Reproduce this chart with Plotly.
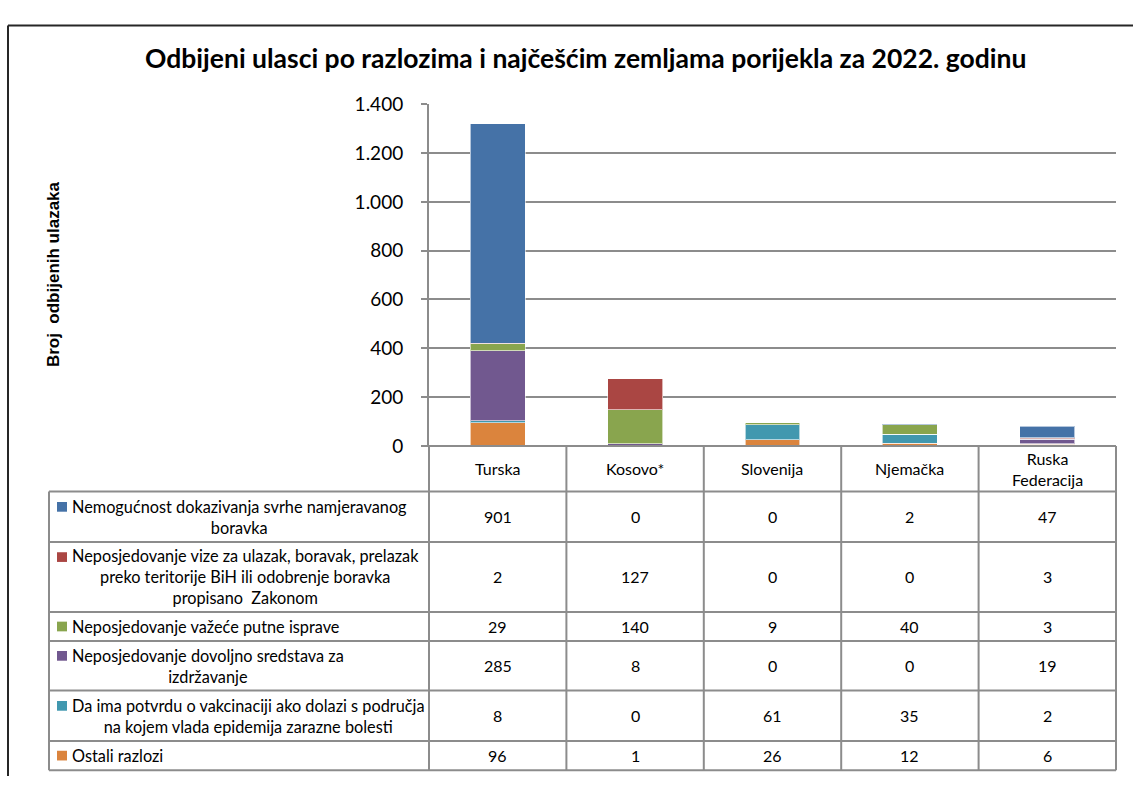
import plotly.graph_objects as go

# ---------------- data ----------------
countries = ["Turska", "Kosovo*", "Slovenija", "Njemačka", "Ruska Federacija"]
country_labels = ["Turska", "Kosovo*", "Slovenija", "Njemačka", "Ruska<br>Federacija"]

reasons = [
    "Nemogućnost dokazivanja svrhe namjeravanog<br>boravka",
    "Neposjedovanje vize za ulazak, boravak, prelazak<br>preko teritorije BiH ili odobrenje boravka<br>propisano  Zakonom",
    "Neposjedovanje važeće putne isprave",
    "Neposjedovanje dovoljno sredstava za<br>izdržavanje",
    "Da ima potvrdu o vakcinaciji ako dolazi s područja<br>na kojem vlada epidemija zarazne bolesti",
    "Ostali razlozi",
]
nemogucnost = [901, 0, 0, 2, 47]
vize = [2, 127, 0, 0, 3]
isprave = [29, 140, 9, 40, 3]
sredstva = [285, 8, 0, 0, 19]
vakcinacija = [8, 0, 61, 35, 2]
ostali = [96, 1, 26, 12, 6]
series = [nemogucnost, vize, isprave, sredstva, vakcinacija, ostali]
colors = ["#4572A7", "#AA4643", "#89A54E", "#71588F", "#4198AF", "#DB843D"]

title = "Odbijeni ulasci po razlozima i najčešćim zemljama porijekla za 2022. godinu"
y_title = "Broj  odbijenih ulazaka"

# ---------------- geometry helpers ----------------
W, H = 1133, 787
def px(x):
    return x / W
def py(y):
    return 1 - y / H

FONT = "Lato, Carlito, Calibri, 'Liberation Sans', sans-serif"
GRID = "#8c8c8c"

plot_left, plot_right = 429, 1116
plot_top, plot_bottom = 95, 447
table_left = 49
row_lines = [494, 546, 618, 648, 699, 751, 781]

fig = go.Figure()
for name, vals, color in reversed(list(zip(reasons, series, colors))):
    fig.add_trace(go.Bar(
        x=countries, y=vals, name=name.replace("<br>", " "),
        marker=dict(color=color, line=dict(color="rgba(255,255,255,0.6)", width=1)),
        width=0.4, showlegend=False, hoverinfo="x+y+name",
    ))

shapes = []
annotations = []

# table horizontal lines
for y in row_lines:
    shapes.append(dict(type="line", xref="paper", yref="paper",
                       x0=px(table_left), x1=px(plot_right), y0=py(y), y1=py(y),
                       line=dict(color=GRID, width=2)))
# header top line (category axis)
shapes.append(dict(type="line", xref="paper", yref="paper",
                   x0=px(423), x1=px(plot_right), y0=py(plot_bottom), y1=py(plot_bottom),
                   line=dict(color=GRID, width=2)))
# vertical lines
n = len(countries)
colw = (plot_right - plot_left) / n
for i in range(n + 1):
    x = plot_left + i * colw
    shapes.append(dict(type="line", xref="paper", yref="paper",
                       x0=px(x), x1=px(x), y0=py(plot_bottom), y1=py(row_lines[-1]),
                       line=dict(color=GRID, width=2)))
shapes.append(dict(type="line", xref="paper", yref="paper",
                   x0=px(table_left), x1=px(table_left), y0=py(row_lines[0]), y1=py(row_lines[-1]),
                   line=dict(color=GRID, width=2)))

# outer chart border (top and left)
shapes.append(dict(type="line", xref="paper", yref="paper",
                   x0=px(8), x1=1.0, y0=py(14), y1=py(14), line=dict(color="#262626", width=2)))
shapes.append(dict(type="line", xref="paper", yref="paper",
                   x0=px(8), x1=px(8), y0=py(14), y1=0, line=dict(color="#262626", width=2)))

# header labels
for i, lab in enumerate(country_labels):
    cx = plot_left + (i + 0.5) * colw
    annotations.append(dict(xref="paper", yref="paper", x=px(cx), y=py((plot_bottom + row_lines[0]) / 2),
                            text=lab, showarrow=False, xanchor="center", yanchor="middle",
                            font=dict(family=FONT, size=16, color="#000")))

# rows
LH = 20.5
for r, (lab, vals, color) in enumerate(zip(reasons, series, colors)):
    y0, y1 = row_lines[r], row_lines[r + 1]
    cy = (y0 + y1) / 2
    nl = lab.count("<br>") + 1
    first = cy - (nl - 1) * LH / 2
    shapes.append(dict(type="rect", xref="paper", yref="paper",
                       x0=px(57), x1=px(67), y0=py(first - 5), y1=py(first + 5),
                       fillcolor=color, line=dict(width=0)))
    annotations.append(dict(xref="paper", yref="paper", x=px(70), y=py(cy),
                            text=lab, showarrow=False, xanchor="left", yanchor="middle",
                            align="center", font=dict(family=FONT, size=16.3, color="#000")))
    for i, v in enumerate(vals):
        cx = plot_left + (i + 0.5) * colw
        annotations.append(dict(xref="paper", yref="paper", x=px(cx), y=py(cy),
                                text=str(v), showarrow=False, xanchor="center", yanchor="middle",
                                font=dict(family=FONT, size=16, color="#000")))

# title
annotations.append(dict(xref="paper", yref="paper", x=px(585), y=py(47), text="<b>" + title + "</b>",
                        showarrow=False, xanchor="center", yanchor="middle",
                        font=dict(family=FONT, size=26.5, color="#000")))
# y-axis title
annotations.append(dict(xref="paper", yref="paper", x=px(53), y=py(270), text="<b>" + y_title + "</b>",
                        showarrow=False, xanchor="center", yanchor="middle", textangle=-90,
                        font=dict(family="'Liberation Sans', Arial, sans-serif", size=17, color="#000")))

fig.update_layout(
    width=W, height=H,
    margin=dict(l=0, r=0, t=0, b=0),
    paper_bgcolor="white", plot_bgcolor="white",
    barmode="stack",
    separators=",.",
    showlegend=False,
    xaxis=dict(domain=[px(plot_left), px(plot_right)], range=[-0.5, n - 0.5],
               showticklabels=False, showgrid=False, zeroline=False, showline=False, ticks=""),
    yaxis=dict(domain=[py(plot_bottom), py(plot_top)], range=[0, 1400], dtick=200,
               tickformat=",", showgrid=True, gridcolor=GRID, gridwidth=1.5,
               zeroline=False, showline=True, linecolor=GRID, linewidth=2,
               ticks="outside", ticklen=6, tickcolor=GRID, tickwidth=2,
               ticklabelstandoff=14,
               tickfont=dict(family=FONT, size=19, color="#000")),
    shapes=shapes, annotations=annotations,
)

fig.write_html(
    "out.html",
    config={"displayModeBar": False},
    post_script=(
        "document.documentElement.style.margin='0px';"
        "document.documentElement.style.overflow='hidden';"
        "document.body.style.margin='0px';"
        "document.body.style.overflow='hidden';"
    ),
)
